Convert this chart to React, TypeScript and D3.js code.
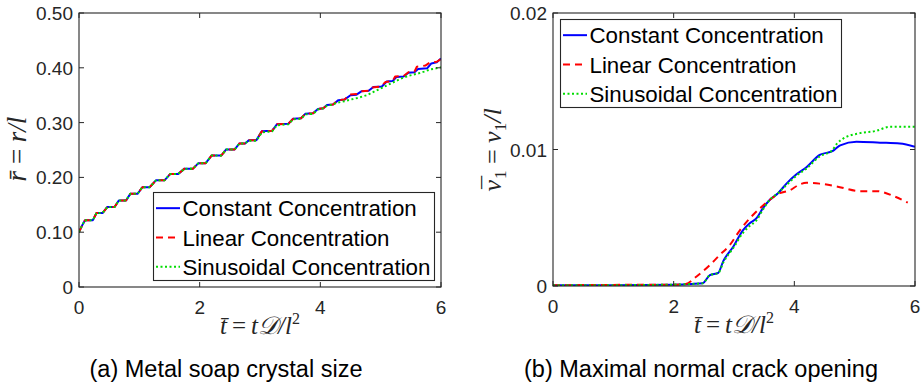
import React from "react";
import * as d3 from "d3";

// ---------- data ----------
const xTicks = [0, 2, 4, 6];
const rTicks = [0, 0.1, 0.2, 0.3, 0.4, 0.5];
const rTickLabels = ["0", "0.10", "0.20", "0.30", "0.40", "0.50"];
const vTicks = [0, 0.01, 0.02];
const vTickLabels = ["0", "0.01", "0.02"];
const seriesNames = ["Constant Concentration", "Linear Concentration", "Sinusoidal Concentration"];

const rConstant: [number, number][] = [[0,0.100],[0.05,0.112],[0.10,0.122],[0.23,0.122],[0.29,0.135],[0.39,0.135],[0.47,0.146],[0.59,0.146],[0.66,0.158],[0.78,0.158],[0.85,0.170],[0.97,0.170],[1.05,0.182],[1.17,0.182],[1.28,0.195],[1.42,0.195],[1.51,0.206],[1.64,0.206],[1.75,0.216],[1.89,0.216],[1.98,0.226],[2.10,0.226],[2.20,0.240],[2.36,0.240],[2.44,0.251],[2.58,0.251],[2.66,0.262],[2.75,0.262],[2.82,0.268],[2.94,0.268],[3.03,0.284],[3.20,0.285],[3.28,0.297],[3.47,0.298],[3.55,0.307],[3.68,0.308],[3.75,0.316],[3.88,0.317],[3.96,0.325],[4.05,0.326],[4.11,0.332],[4.21,0.333],[4.30,0.341],[4.40,0.342],[4.50,0.350],[4.60,0.351],[4.68,0.357],[4.80,0.358],[4.88,0.365],[5.02,0.366],[5.10,0.375],[5.20,0.376],[5.26,0.383],[5.38,0.384],[5.46,0.391],[5.56,0.392],[5.62,0.398],[5.77,0.399],[5.84,0.408],[5.93,0.410],[6.00,0.417]];
const rLinear: [number, number][] = [[0,0.100],[0.05,0.112],[0.10,0.122],[0.23,0.122],[0.29,0.135],[0.39,0.135],[0.47,0.146],[0.59,0.146],[0.66,0.158],[0.78,0.158],[0.85,0.170],[0.97,0.170],[1.05,0.182],[1.17,0.182],[1.28,0.195],[1.42,0.195],[1.51,0.206],[1.64,0.206],[1.75,0.216],[1.89,0.216],[1.98,0.226],[2.10,0.226],[2.20,0.240],[2.36,0.240],[2.44,0.251],[2.58,0.251],[2.66,0.262],[2.75,0.262],[2.82,0.268],[2.94,0.268],[3.03,0.284],[3.20,0.285],[3.28,0.297],[3.47,0.298],[3.55,0.307],[3.68,0.308],[3.75,0.316],[3.88,0.317],[3.96,0.325],[4.05,0.326],[4.11,0.332],[4.21,0.333],[4.30,0.341],[4.40,0.342],[4.48,0.351],[4.60,0.352],[4.68,0.357],[4.80,0.358],[4.86,0.364],[5.00,0.366],[5.08,0.374],[5.20,0.376],[5.24,0.384],[5.38,0.385],[5.46,0.392],[5.56,0.393],[5.60,0.402],[5.74,0.404],[5.82,0.410],[5.93,0.411],[6.00,0.416]];
const rSinusoidal: [number, number][] = [[0,0.100],[0.05,0.112],[0.10,0.122],[0.23,0.122],[0.29,0.135],[0.39,0.135],[0.47,0.146],[0.59,0.146],[0.66,0.158],[0.78,0.158],[0.85,0.170],[0.97,0.170],[1.05,0.182],[1.17,0.182],[1.28,0.195],[1.42,0.195],[1.51,0.206],[1.64,0.206],[1.75,0.216],[1.89,0.216],[1.98,0.226],[2.10,0.226],[2.20,0.240],[2.36,0.240],[2.44,0.251],[2.58,0.251],[2.66,0.262],[2.75,0.262],[2.82,0.267],[2.94,0.267],[3.03,0.282],[3.20,0.284],[3.28,0.295],[3.47,0.297],[3.55,0.306],[3.68,0.307],[3.75,0.315],[3.88,0.316],[3.96,0.324],[4.05,0.326],[4.11,0.331],[4.21,0.333],[4.27,0.336],[4.40,0.339],[4.50,0.342],[4.62,0.345],[4.77,0.350],[4.90,0.357],[5.05,0.365],[5.20,0.373],[5.33,0.380],[5.45,0.385],[5.60,0.389],[5.72,0.393],[5.82,0.397],[5.92,0.399],[6.00,0.401]];

const vConstant: [number, number][] = [[0,0.00005],[1.0,0.00006],[2.0,0.0001],[2.30,0.00015],[2.48,0.0002],[2.60,0.0008],[2.74,0.00097],[2.82,0.0018],[2.99,0.0029],[3.15,0.0041],[3.26,0.0046],[3.37,0.00495],[3.48,0.0057],[3.59,0.0063],[3.73,0.0068],[3.87,0.0075],[4.04,0.0082],[4.20,0.0087],[4.42,0.0096],[4.64,0.0099],[4.76,0.0103],[5.03,0.01056],[5.42,0.0105],[5.75,0.01044],[6.0,0.0102]];
const vLinear: [number, number][] = [[0,0.00005],[1.0,0.00008],[2.0,0.0001],[2.20,0.00015],[2.38,0.0007],[2.60,0.00154],[2.77,0.0023],[2.93,0.003],[3.10,0.0041],[3.26,0.00495],[3.43,0.0057],[3.59,0.0063],[3.76,0.0068],[3.92,0.0070],[4.09,0.00744],[4.20,0.00756],[4.42,0.0075],[4.70,0.0073],[5.09,0.00695],[5.36,0.00695],[5.64,0.0066],[5.88,0.0061]];
const vSinusoidal: [number, number][] = [[0,0.00005],[1.0,0.00006],[2.0,0.0001],[2.30,0.00015],[2.48,0.0002],[2.60,0.0008],[2.74,0.00095],[2.82,0.0017],[2.99,0.0028],[3.15,0.0039],[3.26,0.0044],[3.37,0.0048],[3.48,0.0056],[3.59,0.0063],[3.73,0.0068],[3.87,0.0074],[4.04,0.0081],[4.20,0.0086],[4.42,0.0095],[4.62,0.0099],[4.70,0.0104],[4.81,0.0108],[5.09,0.0112],[5.36,0.01137],[5.58,0.01166],[6.0,0.01166]];

// ---------- styles ----------
const AX = "#262626";
const SANS = "'Liberation Sans', Arial, Helvetica, sans-serif";
const SERIF = "'Liberation Serif', 'DejaVu Serif', serif";
const styles = [
  { color: "#0000ff", dash: undefined as string | undefined, width: 2 },
  { color: "#ff0000", dash: "7,5", width: 2 },
  { color: "#00dd00", dash: "2,2.5", width: 2 },
];

type Panel = {
  x0: number; x1: number; yTop: number; yBot: number;
  yMax: number; yTicks: number[]; yLabels: string[];
  series: [number, number][][];
  legend: { x: number; y: number; w: number; h: number };
  curve: any;
};

function PanelView({ p }: { p: Panel }) {
  const x = d3.scaleLinear().domain([0, 6]).range([p.x0, p.x1]);
  const y = d3.scaleLinear().domain([0, p.yMax]).range([p.yBot, p.yTop]);
  const line = d3.line<[number, number]>().x(d => x(d[0])).y(d => y(d[1])).curve(p.curve);
  const tl = 5;
  const rowH = p.legend.h / 3;
  const cx = (p.x0 + p.x1) / 2;
  return (
    <g>
      <defs>
        <clipPath id={`clip${p.x0}`}>
          <rect x={p.x0} y={p.yTop} width={p.x1 - p.x0} height={p.yBot - p.yTop} />
        </clipPath>
      </defs>
      <rect x={p.x0} y={p.yTop} width={p.x1 - p.x0} height={p.yBot - p.yTop} fill="#fff" />
      <g clipPath={`url(#clip${p.x0})`}>
        {p.series.map((s, i) => (
          <path key={i} d={line(s) || ""} fill="none" stroke={styles[i].color}
            strokeWidth={styles[i].width} strokeDasharray={styles[i].dash} strokeLinejoin="round" />
        ))}
      </g>
      {/* box */}
      <rect x={p.x0} y={p.yTop} width={p.x1 - p.x0} height={p.yBot - p.yTop} fill="none" stroke={AX} strokeWidth={1.1} />
      {/* x ticks */}
      {xTicks.map(t => (
        <g key={"x" + t}>
          <line x1={x(t)} x2={x(t)} y1={p.yBot} y2={p.yBot - tl} stroke={AX} />
          <line x1={x(t)} x2={x(t)} y1={p.yTop} y2={p.yTop + tl} stroke={AX} />
          <text x={x(t)} y={p.yBot + 27} textAnchor="middle" fontFamily={SANS} fontSize={19} fill={AX}>{t}</text>
        </g>
      ))}
      {p.yTicks.map((t, i) => (
        <g key={"y" + t}>
          <line x1={p.x0} x2={p.x0 + tl} y1={y(t)} y2={y(t)} stroke={AX} />
          <line x1={p.x1} x2={p.x1 - tl} y1={y(t)} y2={y(t)} stroke={AX} />
          <text x={p.x0 - 6} y={y(t) + 7} textAnchor="end" fontFamily={SANS} fontSize={19} fill={AX}>{p.yLabels[i]}</text>
        </g>
      ))}
      {/* x label */}
      <text x={cx} y={p.yBot + 47} textAnchor="middle" fontFamily={SERIF} fontSize={25} fill={AX}>
        <tspan fontStyle="italic">{"t\u0304"}</tspan>
        <tspan>{"\u2009=\u2009"}</tspan>
        <tspan fontStyle="italic">t𝒟/l</tspan>
        <tspan dy={-10} fontSize={16}>2</tspan>
      </text>
      {/* legend */}
      <rect x={p.legend.x} y={p.legend.y} width={p.legend.w} height={p.legend.h} fill="#fff" stroke={AX} strokeWidth={1.1} />
      {seriesNames.map((n, i) => {
        const cy = p.legend.y + rowH * (i + 0.5) + 1;
        return (
          <g key={n}>
            <line x1={p.legend.x + 2.5} x2={p.legend.x + 26.5} y1={cy} y2={cy} stroke={styles[i].color}
              strokeWidth={styles[i].width} strokeDasharray={styles[i].dash} />
            <text x={p.legend.x + 29} y={cy + 8} fontFamily={SANS} fontSize={22.3} fill="#000">{n}</text>
          </g>
        );
      })}
    </g>
  );
}

export default function App() {
  const left: Panel = {
    x0: 79, x1: 441, yTop: 13, yBot: 287, yMax: 0.5, yTicks: rTicks, yLabels: rTickLabels,
    series: [rConstant, rLinear, rSinusoidal],
    legend: { x: 153.5, y: 192.5, w: 281, h: 88 },
    curve: d3.curveLinear,
  };
  const right: Panel = {
    x0: 553, x1: 915, yTop: 13, yBot: 286, yMax: 0.02, yTicks: vTicks, yLabels: vTickLabels,
    series: [vConstant, vLinear, vSinusoidal],
    legend: { x: 560.5, y: 19.5, w: 281, h: 88 },
    curve: d3.curveMonotoneX,
  };
  return (
    <svg width={922} height={389} style={{ position: "absolute", left: 0, top: 0, background: "#fff" }}>
      <rect width={922} height={389} fill="#fff" />
      <PanelView p={left} />
      <PanelView p={right} />
      {/* y labels */}
      <text transform="translate(26,149) rotate(-90)" textAnchor="middle" fontFamily={SERIF} fontSize={27} fill={AX}>
        <tspan fontStyle="italic">{"r\u0304"}</tspan>
        <tspan>{" = "}</tspan>
        <tspan fontStyle="italic">r/l</tspan>
      </text>
      <text transform="translate(501,150) rotate(-90)" textAnchor="middle" fontFamily={SERIF} fontSize={26} fill={AX}>
        <tspan fontStyle="italic">ν</tspan>
        <tspan fontStyle="italic" dx={-11} dy={-1}>{"\u00AF"}</tspan>
        <tspan dx={-1} dy={6} fontSize={17}>1</tspan>
        <tspan dy={-5}>{" = "}</tspan>
        <tspan fontStyle="italic">ν</tspan>
        <tspan dy={5} fontSize={17}>1</tspan>
        <tspan dy={-5} fontStyle="italic">/l</tspan>
      </text>
      {/* captions */}
      <text x={226} y={377} textAnchor="middle" fontFamily={SANS} fontSize={23.5} fill="#000">(a) Metal soap crystal size</text>
      <text x={701} y={377} textAnchor="middle" fontFamily={SANS} fontSize={23.5} fill="#000">(b) Maximal normal crack opening</text>
    </svg>
  );
}
